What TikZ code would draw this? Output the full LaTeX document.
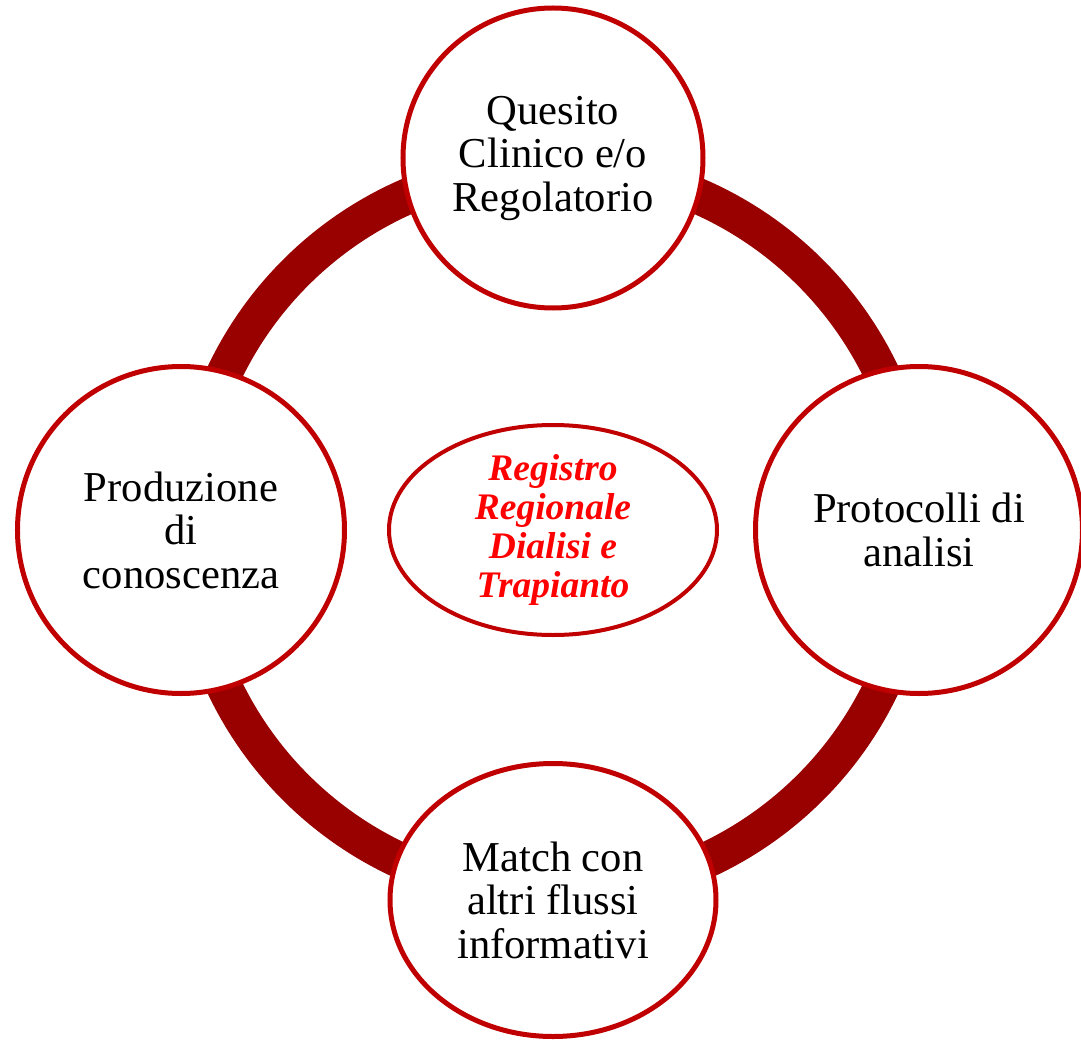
\documentclass[tikz,border=0pt]{standalone}
\usepackage{fontspec}
\setmainfont{Liberation Serif}
\usetikzlibrary{positioning,shapes.geometric}

\definecolor{ringred}{HTML}{990000}
\definecolor{edgered}{HTML}{C00000}
\definecolor{textred}{HTML}{FF0000}

\tikzset{
  phase/.style={circle, draw=edgered, line width=5pt, fill=white,
    inner sep=0pt, align=center, font=\fontsize{42.6}{43.5}\selectfont},
  core/.style={ellipse, draw=edgered, line width=4pt, fill=white,
    inner sep=-14pt, align=center, text=textred,
    font=\fontsize{37.5}{39.3}\selectfont\bfseries\itshape},
  ring/.style={draw=ringred, line width=36pt}
}

\begin{document}
\begin{tikzpicture}[x=1pt,y=1pt,on grid]
   \useasboundingbox (-553,-512) rectangle (528,530);
   % the cycle behind the phases
   \draw[ring] (0,0) circle (364);
   \node[core, minimum width=328pt, minimum height=210pt] (reg) at (0,0)
      {Registro\\Regionale\\Dialisi e\\Trapianto};
   \node[phase, minimum size=300pt] (q_quesito)  [above=372pt of reg]
      {Quesito\\Clinico e/o\\Regolatorio};
   \node[phase, minimum size=327pt] (q_protocolli) [right=366pt of reg]
      {Protocolli di\\analisi};
   \node[phase, ellipse, minimum width=326pt, minimum height=273pt, inner sep=-10pt]
      (q_match) [below=370pt of reg]
      {Match con\\altri flussi\\informativi};
   \node[phase, minimum size=327pt] (q_produzione) [left=372pt of reg]
      {Produzione\\di\\conoscenza};
\end{tikzpicture}
\end{document}
